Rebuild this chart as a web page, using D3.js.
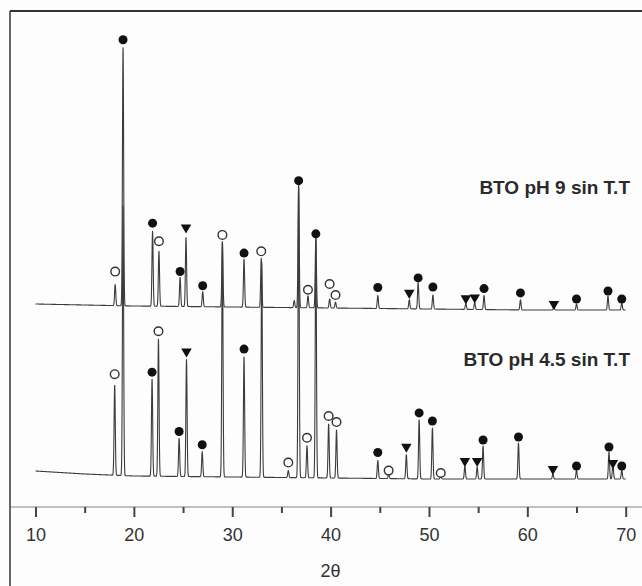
<!DOCTYPE html>
<html>
<head>
<meta charset="utf-8">
<script src="https://cdn.jsdelivr.net/npm/d3@7"></script>
<style>
  html, body { margin: 0; padding: 0; background: #fdfdfd; }
  svg { display: block; }
  text { font-family: "Liberation Sans", Arial, sans-serif; }
</style>
</head>
<body>
<svg id="chart" width="642" height="586"></svg>
<script>
// ---- Data -------------------------------------------------------------
// Diffraction peaks (2θ in degrees, intensity in a.u. above background)
const ph9PeakPos     = [18.10, 18.90, 21.90, 22.55, 24.70, 25.30, 27.00, 29.00, 31.20, 32.95, 36.30, 36.75, 37.70, 38.50, 39.90, 40.50, 44.80, 48.00, 48.90, 50.40, 53.75, 54.65, 55.60, 59.30, 62.70, 65.00, 68.20, 69.60];
const ph9PeakHeight  = [42, 516, 150, 110, 58, 138, 30, 130, 96, 98, 14, 246, 24, 140, 18, 12, 26, 18, 52, 28, 12, 14, 28, 20, 8, 12, 28, 14];

const ph45PeakPos    = [18.05, 18.90, 21.85, 22.50, 24.60, 25.35, 26.95, 29.00, 31.20, 33.00, 35.70, 36.75, 37.60, 38.50, 39.80, 40.60, 44.80, 45.90, 47.70, 49.00, 50.35, 51.20, 53.65, 54.90, 55.50, 59.10, 62.60, 65.00, 68.30, 68.70, 69.60];
const ph45PeakHeight = [180, 540, 194, 274, 76, 234, 50, 470, 240, 430, 14, 580, 64, 480, 108, 96, 36, 10, 48, 118, 102, 8, 26, 24, 66, 72, 10, 18, 54, 30, 18];

// Background level of each pattern (a.u.), stacked offsets included
const bgTheta = [10, 15, 20, 30, 40, 50, 60, 70];
const ph9Background  = [406, 404, 402, 400, 398, 396, 394, 394];
const ph45Background = [72, 66, 62, 60, 58, 56, 56, 56];

// Phase markers: [2θ, phase, marker level in a.u. above background]
const ph9Markers = [
  [18.10, "open", 68], [18.90, "filled", 532], [21.90, "filled", 166], [22.55, "open", 130],
  [24.70, "filled", 70], [25.30, "triangle", 158], [27.00, "filled", 42], [29.00, "open", 144],
  [31.20, "filled", 108], [32.95, "open", 112], [36.75, "filled", 254], [37.70, "open", 36],
  [38.50, "filled", 148], [39.90, "open", 48], [40.50, "open", 26], [44.80, "filled", 42],
  [48.00, "triangle", 32], [48.90, "filled", 62], [50.40, "filled", 44], [53.75, "triangle", 22],
  [54.65, "triangle", 24], [55.60, "filled", 42], [59.30, "filled", 34], [62.70, "triangle", 12],
  [65.00, "filled", 22], [68.20, "filled", 38], [69.60, "filled", 22]
];
const ph45Markers = [
  [18.05, "open", 202], [21.85, "filled", 208], [22.50, "open", 290], [24.60, "filled", 90],
  [25.35, "triangle", 250], [26.95, "filled", 64], [31.20, "filled", 256], [35.70, "open", 30],
  [37.60, "open", 80], [39.80, "open", 124], [40.60, "open", 112], [44.80, "filled", 52],
  [45.90, "open", 16], [47.70, "triangle", 64], [49.00, "filled", 132], [50.35, "filled", 116],
  [51.20, "open", 12], [53.65, "triangle", 36], [54.90, "triangle", 36], [55.50, "filled", 78],
  [59.10, "filled", 84], [62.60, "triangle", 20], [65.00, "filled", 26], [68.30, "filled", 64],
  [68.70, "triangle", 32], [69.60, "filled", 26]
];

const sampleNames = ["BTO pH 9 sin T.T", "BTO pH 4.5 sin T.T"];
const sampleLabelLevel = [626, 282];   // a.u., vertical anchor of each name

const xTicksMajor = [10, 20, 30, 40, 50, 60, 70];
const xTicksMinor = [15, 25, 35, 45, 55, 65];
const xLabel = "2θ";

// ---- Layout -----------------------------------------------------------
const svg = d3.select("#chart");
const W = 642, H = 586;
const frameLeft = 10, frameTop = 11, axisY = 507;

const x = d3.scaleLinear().domain([10, 70]).range([35.5, 625.7]);
const y = d3.scaleLinear().domain([0, 1000]).range([axisY, 7]);

const peakSigma = 0.06;   // peak width in degrees

function profile(pos, height, bgLevels) {
  const bg = d3.scaleLinear().domain(bgTheta).range(bgLevels);
  const pts = [];
  for (let i = 0; i <= 6000; i++) {
    const t = 10 + i * 0.01;
    let v = bg(t);
    for (let k = 0; k < pos.length; k++) {
      const d = (t - pos[k]) / peakSigma;
      if (Math.abs(d) < 8) v += height[k] * Math.exp(-0.5 * d * d);
    }
    pts.push([t, v]);
  }
  return { pts, bg };
}

// frame (left and top edges)
svg.append("line").attr("x1", frameLeft).attr("x2", frameLeft)
  .attr("y1", frameTop).attr("y2", H)
  .attr("stroke", "#666").attr("stroke-width", 2);
svg.append("line").attr("x1", frameLeft).attr("x2", W)
  .attr("y1", frameTop).attr("y2", frameTop)
  .attr("stroke", "#333").attr("stroke-width", 2);

// axis base line
svg.append("line").attr("x1", frameLeft + 1).attr("x2", W)
  .attr("y1", axisY).attr("y2", axisY)
  .attr("stroke", "#aaa").attr("stroke-width", 1.5);

// major ticks with labels
const axMajor = svg.append("g").attr("transform", `translate(0,${axisY})`)
  .call(d3.axisBottom(x).tickValues(xTicksMajor).tickSize(10).tickPadding(11)
    .tickFormat(d3.format("d")));
axMajor.select(".domain").remove();
axMajor.selectAll(".tick line").attr("stroke", "#444").attr("stroke-width", 2);
axMajor.selectAll(".tick text").attr("fill", "#333").style("font-size", "18px")
  .style("font-family", "'Liberation Sans', Arial, sans-serif");

// minor ticks
const axMinor = svg.append("g").attr("transform", `translate(0,${axisY})`)
  .call(d3.axisBottom(x).tickValues(xTicksMinor).tickSize(6).tickFormat(""));
axMinor.select(".domain").remove();
axMinor.selectAll(".tick line").attr("stroke", "#444").attr("stroke-width", 2);

svg.append("text").attr("x", x(40)).attr("y", 577)
  .attr("text-anchor", "middle").attr("fill", "#333")
  .style("font-size", "18px").text(xLabel);

// patterns
const line = d3.line().x(d => x(d[0])).y(d => y(d[1]));
const patterns = [
  { pos: ph45PeakPos, h: ph45PeakHeight, bg: ph45Background, markers: ph45Markers },
  { pos: ph9PeakPos,  h: ph9PeakHeight,  bg: ph9Background,  markers: ph9Markers }
];

patterns.forEach(p => {
  const prof = profile(p.pos, p.h, p.bg);
  p.bgScale = prof.bg;
  svg.append("path").datum(prof.pts)
    .attr("d", line)
    .attr("fill", "none")
    .attr("stroke", "#3c3c3c")
    .attr("stroke-width", 1.1)
    .attr("stroke-linejoin", "round");
});

// phase markers
const tri = d3.symbol().type(d3.symbolTriangle).size(48);
patterns.forEach(p => {
  p.markers.forEach(([t, phase, lvl]) => {
    const cx = x(t), cy = y(p.bgScale(t) + lvl);
    if (phase === "filled") {
      svg.append("circle").attr("cx", cx).attr("cy", cy).attr("r", 4.5)
        .attr("fill", "#111");
    } else if (phase === "open") {
      svg.append("circle").attr("cx", cx).attr("cy", cy).attr("r", 4.3)
        .attr("fill", "#fff").attr("stroke", "#333").attr("stroke-width", 1.4);
    } else {
      svg.append("path").attr("d", tri)
        .attr("transform", `translate(${cx},${cy}) rotate(180)`)
        .attr("fill", "#111");
    }
  });
});

// sample names
sampleNames.forEach((name, i) => {
  svg.append("text")
    .attr("x", 630).attr("y", y(sampleLabelLevel[i]))
    .attr("text-anchor", "end")
    .attr("fill", "#2a2a2a")
    .style("font-size", "19px").style("font-weight", "bold")
    .text(name);
});
</script>
</body>
</html>
